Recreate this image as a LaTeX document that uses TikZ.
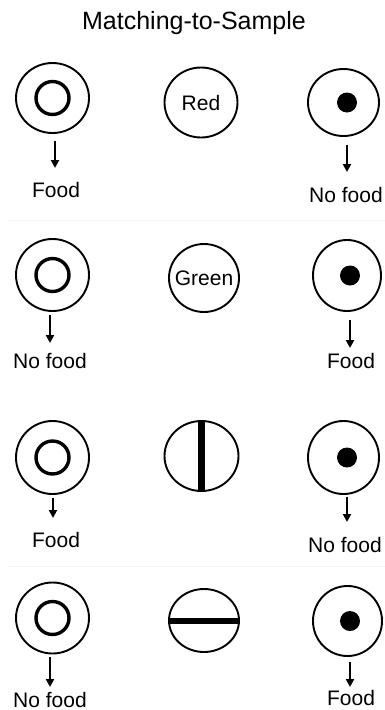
\documentclass[tikz,border=0pt]{standalone}
\usepackage{fontspec}
\setmainfont{Liberation Sans}
\usetikzlibrary{arrows.meta,shapes.geometric}
\definecolor{keyfg}{HTML}{000000}
\definecolor{rulefg}{HTML}{F3F3F3}

\begin{document}
\begin{tikzpicture}[color=keyfg, draw=keyfg, line width=1.9pt, >={Triangle[length=8pt,width=8pt]}, x=1pt, y=-1pt,
  key/.style={ellipse, draw, inner sep=0pt, minimum width=73pt, minimum height=70pt},
  ring/.style={circle, draw, line width=3.4pt, inner sep=0pt, minimum size=33pt},
  dot/.style={circle, fill, inner sep=0pt, minimum size=20pt},
  word/.style={font=\fontsize{21}{25}\selectfont, anchor=base, inner sep=0pt},
  feed/.style={->, line width=2pt},
  sepline/.style={draw=rulefg, line width=0.8pt}]
  \useasboundingbox (0,0) rectangle (385,710);
  \node[font=\fontsize{25}{30}\selectfont, anchor=base, inner sep=0pt] (title) at (194,29) {Matching-to-Sample};
  % faint rules between trials
  \draw[sepline] (8,220) -- (385,220);
  \draw[sepline] (8,566) -- (385,566);

  % trial 1
  \node[key] (l1) at (52.5,98) {};
  \node[ring] (r1in) at (l1.center) {};
  \node[key] (m1) at (201,102.5) {};
  \node[font=\fontsize{21}{25}\selectfont, inner sep=0pt] (m1txt) at (m1.center) {Red};
  \node[key, minimum width=71pt, minimum height=67pt] (r1) at (343.5,102.5) {};
  \node[dot] (d1) at ([xshift=3.5pt]r1.center) {};
  \node[word] (f1) at (56,197) {Food};
  \node[word] (n1) at (346,202) {No food};
  \coordinate (a1) at (55,168);
  \coordinate (b1) at (347,172);
  \draw[feed, shorten <=7pt] (l1.south -| a1) -- (a1);
  \draw[feed, shorten <=8pt] (r1.south -| b1) -- (b1);

  % trial 2
  \node[key, minimum height=72pt] (l2) at (52.5,275) {};
  \node[ring] (r2in) at (l2.center) {};
  \node[key, minimum width=70pt, minimum height=68pt] (m2) at (204,278) {};
  \node[font=\fontsize{21}{25}\selectfont, inner sep=0pt] (m2txt) at (m2.center) {Green};
  \node[key, minimum width=68pt, minimum height=71pt] (r2) at (347,275.5) {};
  \node[dot] (d2) at ([xshift=3pt]r2.center) {};
  \node[word] (n2) at (50,368) {No food};
  \node[word] (f2) at (351,368) {Food};
  \coordinate (a2) at (50,343);
  \coordinate (b2) at (350,348);
  \draw[feed, shorten <=3pt] (l2.south -| a2) -- (a2);
  \draw[feed, shorten <=8pt] (r2.south -| b2) -- (b2);

  % trial 3
  \node[key, minimum height=73pt] (l3) at (52.5,457.5) {};
  \node[ring] (r3in) at (l3.center) {};
  \node[key, minimum width=74pt] (m3) at (201.5,456) {};
  \draw[line width=7pt, line cap=butt] (m3.north) -- (m3.south);
  \node[key, minimum width=71pt, minimum height=73pt] (r3) at (343.5,457.5) {};
  \node[dot] (d3) at ([xshift=3.5pt]r3.center) {};
  \node[word] (f3) at (56,547) {Food};
  \node[word] (n3) at (345,552) {No food};
  \coordinate (a3) at (53,518);
  \coordinate (b3) at (347,522);
  \draw[feed, shorten <=3pt] (l3.south -| a3) -- (a3);
  \draw[feed, shorten <=2pt] (r3.south -| b3) -- (b3);

  % trial 4
  \node[key, minimum height=71pt] (l4) at (52.5,618) {};
  \node[ring] (r4in) at (l4.center) {};
  \node[key, minimum width=70pt, minimum height=63pt] (m4) at (204,620.5) {};
  \draw[line width=6pt, line cap=butt] (m4.west) -- (m4.east);
  \node[key, minimum width=69pt, minimum height=70pt] (r4) at (347.5,621) {};
  \node[dot] (d4) at ([xshift=2.5pt]r4.center) {};
  \node[word] (n4) at (50,707) {No food};
  \node[word] (f4) at (351,705) {Food};
  \coordinate (a4) at (50,687);
  \coordinate (b4) at (350,687);
  \draw[feed, shorten <=3pt] (l4.south -| a4) -- (a4);
  \draw[feed, shorten <=5pt] (r4.south -| b4) -- (b4);
\end{tikzpicture}
\end{document}
